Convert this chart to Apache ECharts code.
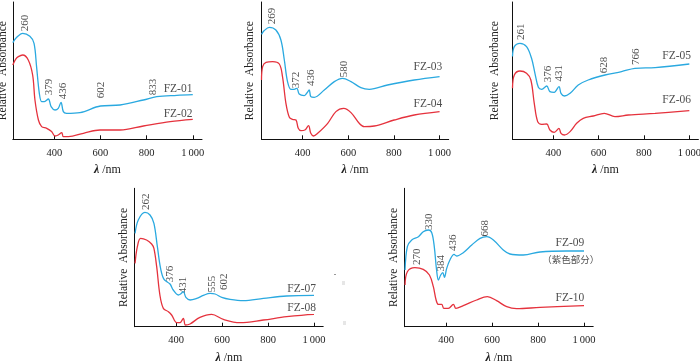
<!DOCTYPE html>
<html><head><meta charset="utf-8">
<script src="https://cdn.jsdelivr.net/npm/echarts@6/dist/echarts.min.js"></script>
<style>html,body{margin:0;padding:0;background:#fff}#c{width:700px;height:361px}</style>
</head><body><div id="c"></div>
<script>
// ---- tick labels ----
const xTickValues = [400, 600, 800, 1000];
const xTickLabels = ['400', '600', '800', '1\u2009000'];
const yAxisTitle = 'Relative  Absorbance';

// ---- Panel 1: FZ-01 / FZ-02 ----
const fz01X = [220,237,263,294,312,323,335,345,357,374,386,403,417,429,439,453,511,600,685,786,844,931,1000];
const fz01Y = [96.7,102,106,103,96,72.7,46,37.7,37.7,40.3,32.7,29.3,31,37,27.7,26,26.7,33.3,34.3,39.3,42.7,44,44.7];
const fz02X = [220,232,244,263,287,306,316,331,345,367,388,403,417,432,439,461,526,598,685,786,902,1000];
const fz02Y = [74.3,80,82.7,84.3,79.3,64.3,39.3,19.3,12.7,11,7.7,3.3,4.3,6.7,2.7,2.7,6,9.3,9.3,13.3,17.7,20];

// ---- Panel 2: FZ-03 / FZ-04 ----
const fz03X = [220,232,254,283,305,320,334,349,363,375,385,407,418,429,436,451,495,539,575,612,655,692,772,889,1000];
const fz03Y = [105,108.7,112,109.3,99.3,79.3,57.7,50,50,51,45.3,43.7,46,49.3,42.7,42,49.3,57.7,61,57.7,51.7,50,54.3,59.3,62.7];
const fz04X = [220,225,240,269,298,312,327,342,356,371,381,393,410,426,436,448,466,510,546,580,612,648,670,714,801,889,1000];
const fz04Y = [59.3,72.7,77,77.7,75.3,62.7,36,22,20,19.3,11,8.7,9.3,13.7,6,3.3,6,16,27.7,31,26.7,16,12.7,13.3,19.3,24.3,27.7];

// ---- Panel 3: FZ-05 / FZ-06 ----
const fz05X = [220,228,253,282,304,319,334,349,371,385,404,425,434,449,474,510,554,628,701,760,849,1000];
const fz05Y = [82.7,92.7,96,92.7,81,66,52,50,53.3,47.7,47,52.7,46,43.3,46,54.3,59.3,64.3,67.7,71,71.7,75.3];
const fz06X = [220,228,253,282,301,316,331,349,371,385,404,425,434,449,474,503,532,576,625,672,731,849,1000];
const fz06Y = [51,64.3,68.3,66,59.3,36,17.7,15,15.3,9.3,7,11,6,4.3,7.7,16,21,23.3,26,22.7,24.3,26,28.7];

// ---- Panel 4: FZ-07 / FZ-08 ----
const fz07X = [222,236,265,287,304,319,333,348,374,388,410,420,432,443,461,490,519,548,570,599,635,693,780,881,1000];
const fz07Y = [93.3,106.7,114.3,111.7,103.3,80,58.3,47.3,42.7,36.7,31.7,32.7,35,29.3,26.7,28.3,31.3,33.3,32.7,29.3,27.3,26,28.3,30.7,31.3];
const fz08X = [222,232,246,272,294,304,316,330,345,367,381,403,417,432,441,461,504,555,606,678,780,881,1000];
const fz08Y = [63.3,80,88.3,86.7,82.7,78.3,60,31.7,18.3,15,11.7,4,4,8.3,1.7,2.7,9.3,12.3,7.3,4,6.7,10,12.3];

// ---- Panel 5: FZ-09 / FZ-10 ----
const fz09X = [222,232,251,280,301,323,338,349,359,367,377,386,393,403,417,435,446,475,512,548,577,606,649,678,736,809,925,1000];
const fz09Y = [56.7,80,86.7,90,95,96.7,94,80,56.7,46.7,51.7,54,49.3,58.3,66.7,72.3,70.7,74,81.7,88.3,90,86.7,76.7,72.7,71.7,74.7,75.7,75.7];
const fz10X = [222,232,265,301,328,345,357,367,381,391,410,432,443,475,533,580,620,664,707,809,1000];
const fz10Y = [41.7,55,59,57.3,51.7,40,26.7,22.3,22.3,18.3,18.3,22.3,18.3,21,26.7,30,26,20,18,19.3,21];

// ---- peak annotations (text, wavelength, absorbance) ----
const peaks1 = ['260','379','436','602','833'];
const peaks1X = [273,378,439,601,828];
const peaks1Y = [116.3,52.3,48.3,49.3,52.3];
const peaks2 = ['269','372','436','580'];
const peaks2X = [265,370,437,583];
const peaks2Y = [123.3,59.3,61.6,70.3];
const peaks3 = ['261','376','431','628','766'];
const peaks3X = [257.5,375,425,623.6,765];
const peaks3Y = [107.6,65.3,66,74.3,82.6];
const peaks4 = ['262','376','431','555','602'];
const peaks4X = [268,374,429,555,609];
const peaks4Y = [125,52.7,41.7,42.7,45];
const peaks5 = ['330','270','384','436','668'];
const peaks5X = [327,272.6,377,432,569.6];
const peaks5Y = [105,70,63.4,84,98.4];

// ---- series names (text, wavelength, absorbance) ----
const names1 = ['FZ-01','FZ-02'];   const names1X = [936,936];  const names1Y = [50.3,25.3];
const names2 = ['FZ-03','FZ-04'];   const names2X = [949,949];  const names2Y = [72.6,35.3];
const names3 = ['FZ-05','FZ-06'];   const names3X = [944,944];  const names3Y = [83.3,39.3];
const names4 = ['FZ-07','FZ-08'];   const names4X = [946.5,946.5]; const names4Y = [37.4,18.4];
const names5 = ['FZ-09','（紫色部分）','FZ-10']; const names5X = [939,942,939]; const names5Y = [83.4,67.4,28.4];

// ---------------- build ----------------
const BLUE = '#2aa9e0', RED = '#e5323d';
const SERIF = '"Liberation Serif","Times New Roman",serif';
const panels = [
  {grid:{left:12.8, top:2, width:189.2, height:137.3}, ymax:137.3, yGap:3.5,
   blue:[fz01X,fz01Y], red:[fz02X,fz02Y], peaks:[peaks1,peaks1X,peaks1Y], names:[names1,names1X,names1Y]},
  {grid:{left:261.5, top:2, width:187.2, height:137.3}, ymax:137.3, yGap:6,
   blue:[fz03X,fz03Y], red:[fz04X,fz04Y], peaks:[peaks2,peaks2X,peaks2Y], names:[names2,names2X,names2Y]},
  {grid:{left:512.5, top:2, width:185.9, height:137.3}, ymax:137.3, yGap:12,
   blue:[fz05X,fz05Y], red:[fz06X,fz06Y], peaks:[peaks3,peaks3X,peaks3Y], names:[names3,names3X,names3Y]},
  {grid:{left:134.6, top:188.3, width:188.6, height:138.4}, ymax:138.4, yGap:5,
   blue:[fz07X,fz07Y], red:[fz08X,fz08Y], peaks:[peaks4,peaks4X,peaks4Y], names:[names4,names4X,names4Y]},
  {grid:{left:404.6, top:188.3, width:188.6, height:138.4}, ymax:138.4, yGap:5,
   blue:[fz09X,fz09Y], red:[fz10X,fz10Y], peaks:[peaks5,peaks5X,peaks5Y], names:[names5,names5X,names5Y]}
];

const zip = (xs, ys) => xs.map((x, i) => [x, ys[i]]);
const grid = [], xAxis = [], yAxis = [], series = [];
panels.forEach((p, i) => {
  grid.push(Object.assign({outerBoundsMode:'none', containLabel:false}, p.grid));
  xAxis.push({
    type:'value', gridIndex:i, min:220, max:1040,
    axisLine:{show:true, onZero:false, lineStyle:{color:'#111', width:1}},
    axisTick:{show:true, inside:true, length:4, customValues:xTickValues, lineStyle:{color:'#111'}},
    axisLabel:{show:true, customValues:xTickValues, margin:8, fontFamily:SERIF, fontSize:10.5, color:'#222',
      formatter: v => xTickLabels[xTickValues.indexOf(v)]},
    splitLine:{show:false},
    name:'{i|λ} /nm', nameLocation:'middle', nameGap:25,
    nameTextStyle:{fontFamily:SERIF, fontSize:12, color:'#222',
      rich:{i:{fontFamily:SERIF, fontSize:12, fontStyle:'italic', fontWeight:'bold', color:'#222'}}}
  });
  yAxis.push({
    type:'value', gridIndex:i, min:0, max:p.ymax,
    axisLine:{show:true, lineStyle:{color:'#111', width:1}},
    axisTick:{show:false}, axisLabel:{show:false}, splitLine:{show:false},
    name:yAxisTitle, nameLocation:'middle', nameGap:p.yGap, nameRotate:90,
    nameTextStyle:{fontFamily:SERIF, fontSize:11.5, color:'#222'}
  });
  series.push({type:'line', xAxisIndex:i, yAxisIndex:i, data:zip(p.blue[0], p.blue[1]),
    smooth:0.35, showSymbol:false, lineStyle:{color:BLUE, width:1.3}, silent:true});
  series.push({type:'line', xAxisIndex:i, yAxisIndex:i, data:zip(p.red[0], p.red[1]),
    smooth:0.35, showSymbol:false, lineStyle:{color:RED, width:1.3}, silent:true});
  const [pt, px, py] = p.peaks;
  series.push({type:'scatter', xAxisIndex:i, yAxisIndex:i, symbolSize:0, silent:true,
    data: pt.map((t, k) => ({value:[px[k], py[k]], label:{formatter:t}})),
    label:{show:true, position:'inside', rotate:90, align:'center', verticalAlign:'middle',
      fontFamily:SERIF, fontSize:11, color:'#222'}});
  const [nt, nx, ny] = p.names;
  series.push({type:'scatter', xAxisIndex:i, yAxisIndex:i, symbolSize:0, silent:true,
    data: nt.map((t, k) => ({value:[nx[k], ny[k]],
      label: t.startsWith('FZ') ? {formatter:t} :
        {formatter:t, fontFamily:'"Noto Sans CJK SC",sans-serif', fontSize:9.5}})),
    label:{show:true, position:'inside', align:'center', verticalAlign:'middle',
      fontFamily:SERIF, fontSize:11.5, color:'#222'}});
});

const chart = echarts.init(document.getElementById('c'), null, {renderer:'canvas'});
chart.setOption({
  animation:false, backgroundColor:'#fff',
  grid, xAxis, yAxis, series,
  graphic:[
    {type:'rect', shape:{x:342, y:281, width:3, height:4}, style:{fill:'#e6e6e6'}},
    {type:'rect', shape:{x:343, y:321, width:3, height:4}, style:{fill:'#e6e6e6'}},
    {type:'rect', shape:{x:334, y:274, width:2, height:1}, style:{fill:'#999'}}
  ]
});
</script></body></html>
